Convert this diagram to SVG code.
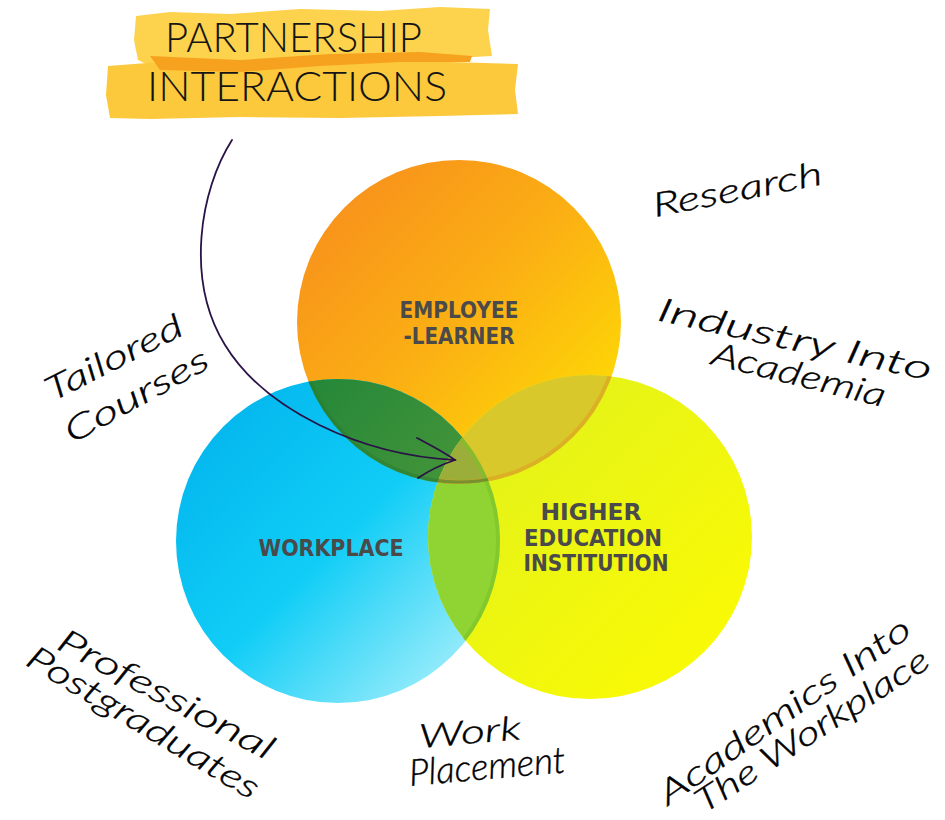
<svg xmlns="http://www.w3.org/2000/svg" width="945" height="820" viewBox="0 0 945 820">
<style>
.lbl{font-family:"DejaVu Sans","Liberation Sans",sans-serif;font-weight:bold;font-size:23px;fill:#4a4a4a;text-anchor:middle}
.hw{font-family:"Lato","Open Sans","DejaVu Sans",sans-serif;font-style:italic;font-weight:300;font-size:33px;fill:#000000;stroke:#000000;stroke-width:0.4}
.ttl{font-family:"Lato","Open Sans","Liberation Sans",sans-serif;font-weight:300;font-size:42px;fill:#151515}
</style>
<defs>
<linearGradient id="gO" x1="0" y1="0" x2="1" y2="1">
<stop offset="0" stop-color="#f7891e"/><stop offset="0.5" stop-color="#fbb013"/><stop offset="1" stop-color="#ffe800"/>
</linearGradient>
<linearGradient id="gB" x1="0" y1="0" x2="1" y2="1">
<stop offset="0" stop-color="#00b0ec"/><stop offset="0.5" stop-color="#10cdf6"/><stop offset="1" stop-color="#c4f6fc"/>
</linearGradient>
<linearGradient id="gY" x1="0" y1="0" x2="1" y2="1">
<stop offset="0" stop-color="#dcf01e"/><stop offset="0.5" stop-color="#eef610"/><stop offset="1" stop-color="#fdfb00"/>
</linearGradient>
<linearGradient id="gOB" x1="0" y1="0" x2="1" y2="1">
<stop offset="0" stop-color="#067a3a"/><stop offset="1" stop-color="#5a9e38"/>
</linearGradient>
<clipPath id="cO"><circle cx="459" cy="322" r="162"/></clipPath>
<clipPath id="cB"><circle cx="338" cy="541" r="162"/></clipPath>
<clipPath id="cY"><circle cx="590" cy="537" r="162"/></clipPath>
</defs>
<rect width="945" height="820" fill="#ffffff"/>

<g id="title">
<path d="M136,16 L170,12 L230,14 L300,9 L380,11 L440,7 L490,9 L488,30 L492,56 L420,60 L330,62 L240,64 L150,66 L138,60 L134,40 Z" fill="#fdd24c"/>
<path d="M108,66 L160,62 L260,64 L360,60 L450,62 L518,64 L515,90 L518,114 L440,116 L340,118 L240,117 L150,119 L110,118 L106,95 Z" fill="#fcc93c"/>
<path d="M150,56 L240,60 L330,54 L420,52 L472,56 L470,62 L400,62 L320,66 L240,72 L160,70 Z" fill="#f7a21f"/>
<text class="ttl" x="165" y="52" textLength="257" lengthAdjust="spacingAndGlyphs">PARTNERSHIP</text>
<text class="ttl" x="147" y="101" textLength="300" lengthAdjust="spacingAndGlyphs">INTERACTIONS</text>
</g>

<g id="employee-learner">
<circle cx="459" cy="322" r="162" fill="url(#gO)"/>
</g>
<g id="workplace">
<circle cx="338" cy="541" r="162" fill="url(#gB)"/>
</g>
<g id="higher-education">
<circle cx="590" cy="537" r="162" fill="url(#gY)"/>
</g>
<g id="overlaps">
<g clip-path="url(#cB)"><circle cx="459" cy="322" r="162" fill="url(#gOB)"/></g>
<g clip-path="url(#cY)"><circle cx="459" cy="322" r="162" fill="#d8c82c"/></g>
<g clip-path="url(#cY)"><circle cx="338" cy="541" r="162" fill="#8fd432"/></g>
<g clip-path="url(#cY)"><g clip-path="url(#cB)"><circle cx="459" cy="322" r="162" fill="#9cae3a"/></g></g>
<g clip-path="url(#cY)"><circle cx="459" cy="322" r="160" fill="none" stroke="#e0a020" stroke-width="4" stroke-opacity="0.6"/></g>
<g clip-path="url(#cY)"><circle cx="338" cy="541" r="160" fill="none" stroke="#7cc22a" stroke-width="4" stroke-opacity="0.6"/></g>
<g clip-path="url(#cB)"><circle cx="459" cy="322" r="160" fill="none" stroke="#2a7a30" stroke-width="3" stroke-opacity="0.5"/></g>
</g>
<g id="labels">
<text class="lbl" x="459" y="318" textLength="119" lengthAdjust="spacingAndGlyphs">EMPLOYEE</text>
<text class="lbl" x="459" y="344" textLength="111" lengthAdjust="spacingAndGlyphs">-LEARNER</text>
<text class="lbl" x="331" y="556" textLength="145" lengthAdjust="spacingAndGlyphs">WORKPLACE</text>
<text class="lbl" x="591" y="520" textLength="101" lengthAdjust="spacingAndGlyphs">HIGHER</text>
<text class="lbl" x="593" y="546" textLength="138" lengthAdjust="spacingAndGlyphs">EDUCATION</text>
<text class="lbl" x="596" y="571" textLength="145" lengthAdjust="spacingAndGlyphs">INSTITUTION</text>
</g>

<g id="connectors" fill="none" stroke="#2a1248" stroke-width="1.8" stroke-linecap="round">
<path d="M232,140 C200,190 185,280 225,345 C265,410 360,455 455,460"/>
<path d="M417,438 C432,446 444,452 455,460 C443,464 430,470 418,478"/>
</g>

<g id="notes">
<text class="hw" transform="translate(655,217) rotate(-11)" textLength="172" lengthAdjust="spacingAndGlyphs">Research</text>
<text class="hw" transform="translate(656,320) rotate(12.5)" textLength="280" lengthAdjust="spacingAndGlyphs">Industry Into</text>
<text class="hw" transform="translate(710,364) rotate(14)" textLength="178" lengthAdjust="spacingAndGlyphs">Academia</text>
<text class="hw" transform="translate(52,402) rotate(-27)" textLength="150" lengthAdjust="spacingAndGlyphs">Tailored</text>
<text class="hw" transform="translate(72,444) rotate(-29)" textLength="160" lengthAdjust="spacingAndGlyphs">Courses</text>
<text class="hw" transform="translate(55,648) rotate(28)" textLength="240" lengthAdjust="spacingAndGlyphs">Professional</text>
<text class="hw" transform="translate(24,664) rotate(31)" textLength="265" lengthAdjust="spacingAndGlyphs">Postgraduates</text>
<text class="hw" transform="translate(420,748) rotate(-5)" textLength="102" lengthAdjust="spacingAndGlyphs">Work</text>
<text class="hw" style="font-size:37px" transform="translate(410,786) rotate(-5)" textLength="157" lengthAdjust="spacingAndGlyphs">Placement</text>
<text class="hw" transform="translate(668,806) rotate(-35)" textLength="300" lengthAdjust="spacingAndGlyphs">Academics Into</text>
<text class="hw" transform="translate(704,814) rotate(-33)" textLength="272" lengthAdjust="spacingAndGlyphs">The Workplace</text>
</g>
</svg>
